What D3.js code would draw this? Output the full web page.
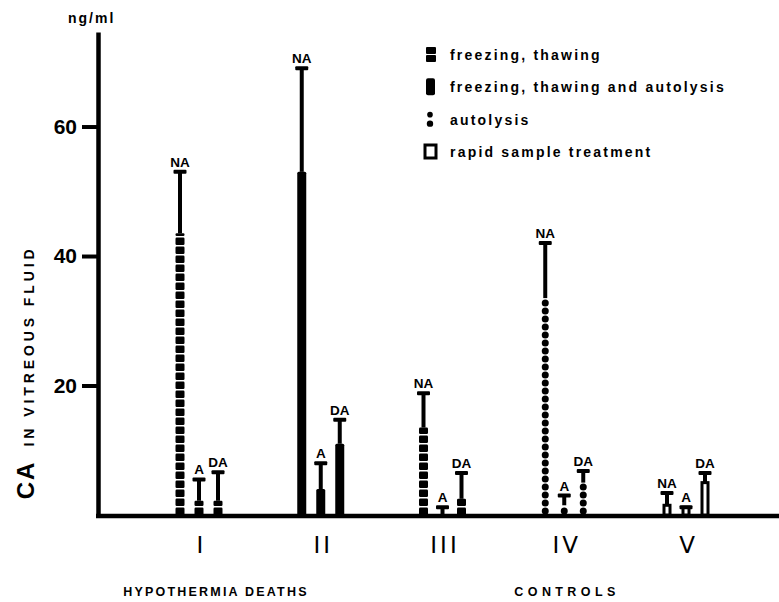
<!DOCTYPE html>
<html lang="en">
<head>
<meta charset="UTF-8">
<title>CA in vitreous fluid</title>
<script src="https://d3js.org/d3.v7.min.js"></script>
<style>
  body { margin:0; background:#fff; }
  text { font-family: "Liberation Sans", Arial, sans-serif; fill:#000; }
</style>
</head>
<body>
<svg id="chart" width="779" height="602"></svg>
<script>
// data (ng/ml)
var groups = ["I", "II", "III", "IV", "V"];
var fractions = ["NA", "A", "DA"];
var groupTreatment = ["ft", "fta", "ft", "auto", "rapid"];
var meanNA = [43.5, 53, 13.5, 33.5, 1.5];
var meanA = [2.2, 4, 0, 1.5, 1.2];
var meanDA = [2.2, 11, 2.5, 5, 5];
var upperNA = [53, 69, 18.8, 42, 3.4];
var upperA = [5.5, 8, 1.2, 3, 1.2];
var upperDA = [6.6, 14.7, 6.5, 6.8, 6.5];
var yTicks = [20, 40, 60];
var legendKeys = ["ft", "fta", "auto", "rapid"];
var legendLabels = ["freezing, thawing", "freezing, thawing and autolysis", "autolysis", "rapid sample treatment"];

var svg = d3.select("#chart");
var y = d3.scaleLinear().domain([0, 74.6]).range([515, 32]);
var x = d3.scalePoint().domain(groups).range([201, 688]);
var xi = d3.scalePoint().domain(fractions).range([-21, 17]);
var barW = 9;

// flatten
var bars = [];
groups.forEach(function(g, i) {
  var m = [meanNA[i], meanA[i], meanDA[i]];
  var u = [upperNA[i], upperA[i], upperDA[i]];
  fractions.forEach(function(f, j) {
    bars.push({group: g, frac: f, mean: m[j], upper: u[j], type: groupTreatment[i]});
  });
});

function cx(d) { return x(d.group) + xi(d.frac); }

// axes
var yAxis = svg.append("g").attr("transform", "translate(98,0)")
  .call(d3.axisLeft(y).tickValues(yTicks).tickSize(16).tickSizeOuter(0).tickPadding(5));
yAxis.select(".domain").attr("stroke-width", 4.5);
yAxis.selectAll(".tick line").attr("stroke-width", 4);
yAxis.selectAll(".tick text").attr("font-size", 21).attr("font-weight", "bold")
  .style("font-family", "'Liberation Sans', Arial, sans-serif").attr("fill", "#000");

svg.append("line").attr("x1", 96).attr("x2", 779).attr("y1", y(0) + 1).attr("y2", y(0) + 1)
  .attr("stroke", "#000").attr("stroke-width", 4.5);

var xAxis = svg.append("g").attr("transform", "translate(0," + y(0) + ")")
  .call(d3.axisBottom(x).tickSize(0).tickPadding(22));
xAxis.select(".domain").remove();
xAxis.selectAll(".tick text").attr("font-size", 23).attr("font-weight", "normal")
  .attr("letter-spacing", 3)
  .style("font-family", "'DejaVu Sans', sans-serif").attr("fill", "#000");

// bars by type
var g = svg.append("g");
bars.forEach(function(d) {
  var x0 = cx(d) - barW / 2, top = y(d.mean), base = y(0);
  if (d.mean <= 0) return;
  if (d.type === "fta") {
    g.append("rect").attr("x", x0).attr("y", top).attr("width", barW).attr("height", base - top)
      .attr("rx", 1.5).attr("fill", "#000");
  } else if (d.type === "rapid") {
    g.append("rect").attr("x", x0 + 1.5).attr("y", top).attr("width", barW - 3).attr("height", base - top)
      .attr("fill", "#fff").attr("stroke", "#000").attr("stroke-width", 3);
  } else if (d.type === "ft") {
    var step = 9, n = Math.ceil((base - top) / step);
    d3.range(n).forEach(function(k) {
      var b = base - k * step, t = Math.max(top, b - 7.5);
      g.append("rect").attr("x", x0).attr("y", t).attr("width", barW).attr("height", b - t)
        .attr("rx", 1.2).attr("fill", "#000");
    });
  } else if (d.type === "auto") {
    var st = 8, nd = Math.max(1, Math.floor((base - top) / st));
    d3.range(nd).forEach(function(k) {
      g.append("circle").attr("cx", cx(d)).attr("cy", base - 4 - k * st).attr("r", 3.5).attr("fill", "#000");
    });
  }
});

// error bars
var err = svg.append("g");
err.selectAll("line.stem").data(bars.filter(function(d) { return d.upper > d.mean; }))
  .enter().append("line").attr("class", "stem")
  .attr("x1", cx).attr("x2", cx)
  .attr("y1", function(d) { return y(d.mean); })
  .attr("y2", function(d) { return y(d.upper); })
  .attr("stroke", "#000").attr("stroke-width", 4);
err.selectAll("rect.cap").data(bars).enter().append("rect").attr("class", "cap")
  .attr("x", function(d) { return cx(d) - 6.5; })
  .attr("y", function(d) { return y(d.upper) - 2; })
  .attr("width", 13).attr("height", 4).attr("rx", 1).attr("fill", "#000");
err.selectAll("text").data(bars).enter().append("text")
  .attr("x", cx).attr("y", function(d) { return y(d.upper) - 5; })
  .attr("text-anchor", "middle").attr("font-size", 13.5).attr("font-weight", "bold")
  .text(function(d) { return d.frac; });

// y labels
svg.append("text").attr("x", 68).attr("y", 23).attr("font-size", 14).attr("font-weight", "bold")
  .attr("letter-spacing", 2).text("ng/ml");
svg.append("text").attr("transform", "translate(34,480) rotate(-90)").attr("text-anchor", "middle")
  .attr("font-size", 24).attr("font-weight", "bold").attr("letter-spacing", 2).text("CA");
svg.append("text").attr("transform", "translate(34,346) rotate(-90)").attr("text-anchor", "middle")
  .attr("font-size", 14).attr("font-weight", "bold").attr("letter-spacing", 3.9).text("IN VITREOUS FLUID");

// group captions
svg.append("text").attr("x", 216).attr("y", 596).attr("text-anchor", "middle").attr("font-size", 12.5)
  .attr("font-weight", "bold").attr("letter-spacing", 2.2).text("HYPOTHERMIA DEATHS");
svg.append("text").attr("x", 567).attr("y", 596).attr("text-anchor", "middle").attr("font-size", 12.5)
  .attr("font-weight", "bold").attr("letter-spacing", 4.4).text("CONTROLS");

// legend
var ly = d3.scalePoint().domain(legendKeys).range([55, 152]);
var leg = svg.append("g");
legendKeys.forEach(function(k, i) {
  var yy = ly(k);
  if (k === "ft") {
    leg.append("rect").attr("x", 426).attr("y", yy - 8).attr("width", 10).attr("height", 7).attr("rx", 1).attr("fill", "#000");
    leg.append("rect").attr("x", 426).attr("y", yy).attr("width", 10).attr("height", 7).attr("rx", 1).attr("fill", "#000");
  } else if (k === "fta") {
    leg.append("rect").attr("x", 426).attr("y", yy - 9).attr("width", 9).attr("height", 17).attr("rx", 2).attr("fill", "#000");
  } else if (k === "auto") {
    leg.append("circle").attr("cx", 430).attr("cy", yy - 5).attr("r", 2.8).attr("fill", "#000");
    leg.append("circle").attr("cx", 430).attr("cy", yy + 4).attr("r", 3.2).attr("fill", "#000");
  } else {
    leg.append("rect").attr("x", 425).attr("y", yy - 7).attr("width", 11).attr("height", 13)
      .attr("fill", "#fff").attr("stroke", "#000").attr("stroke-width", 3);
  }
  leg.append("text").attr("x", 450).attr("y", yy + 5).attr("font-size", 14).attr("font-weight", "bold")
    .attr("letter-spacing", 2.2).text(legendLabels[i]);
});
</script>
</body>
</html>
